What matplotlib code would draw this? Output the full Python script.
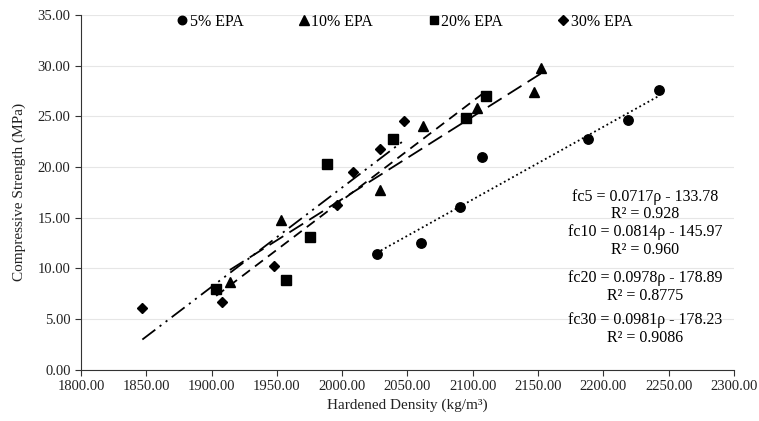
import numpy as np
import matplotlib.pyplot as plt
from matplotlib.lines import Line2D

plt.rcParams['font.family'] = ['Liberation Serif', 'DejaVu Serif']

# hardened density (kg/m3) and compressive strength (MPa) per EPA content
rho_5 = [2026.5, 2060.5, 2090.0, 2107.0, 2188.0, 2219.0, 2242.5]
fc_5 = [11.4, 12.5, 16.0, 21.0, 22.8, 24.6, 27.6]
rho_10 = [1914.0, 1953.0, 2029.0, 2062.0, 2103.0, 2147.0, 2152.0]
fc_10 = [8.6, 14.8, 17.7, 24.0, 25.8, 27.4, 29.8]
rho_20 = [1903.5, 1957.0, 1975.0, 1988.5, 2039.0, 2094.5, 2110.5]
fc_20 = [7.9, 8.8, 13.1, 20.3, 22.8, 24.8, 27.0]
rho_30 = [1847.0, 1908.0, 1948.0, 1996.0, 2008.0, 2029.0, 2047.0]
fc_30 = [6.1, 6.7, 10.2, 16.2, 19.5, 21.8, 24.5]

# linear fits: slope, intercept, R2 label
slopes = [0.0717, 0.0814, 0.0978, 0.0981]
intercepts = [-133.78, -145.97, -178.89, -178.23]
r2_labels = ['0.928', '0.960', '0.8775', '0.9086']
fit_names = ['fc5', 'fc10', 'fc20', 'fc30']

labels = ['5% EPA', '10% EPA', '20% EPA', '30% EPA']
markers = ['o', '^', 's', 'D']
marker_sizes = [6.8, 7.5, 6.8, 5.6]
line_styles = [(0, (1, 1.6)), (0, (9, 4)), (0, (5.5, 3.5)), (0, (9, 3, 1.2, 3, 1.2, 3))]

rho_all = [rho_5, rho_10, rho_20, rho_30]
fc_all = [fc_5, fc_10, fc_20, fc_30]

fig = plt.figure(figsize=(7.59, 4.21), dpi=100)
ax = fig.add_axes([0.1067, 0.1223, 0.8603, 0.8421])

handles = []
for rho, fc, m, ms, ls, a, b, lab in zip(rho_all, fc_all, markers, marker_sizes,
                                          line_styles, slopes, intercepts, labels):
    ax.plot(rho, fc, linestyle='none', marker=m, markersize=ms, color='black', zorder=3)
    xs = np.array([min(rho), max(rho)])
    ax.plot(xs, a * xs + b, linestyle=ls, color='black', linewidth=1.3, zorder=2)
    handles.append(Line2D([], [], linestyle='none', marker=m, markersize=ms * 0.9,
                          color='black', label=lab))

# regression equations
eq_y = [(197, 214), (232, 250), (278, 296), (320, 338)]
for name, a, b, r2, (y1, y2) in zip(fit_names, slopes, intercepts, r2_labels, eq_y):
    ax.text(645 / 759, 1 - y1 / 421, f'{name} = {a:.4f}ρ - {abs(b):.2f}',
            transform=fig.transFigure, ha='center', va='center', fontsize=11.5)
    ax.text(645 / 759, 1 - y2 / 421, f'R² = {r2}',
            transform=fig.transFigure, ha='center', va='center', fontsize=11.5)

ax.set_xlim(1800, 2300)
ax.set_ylim(0, 35)
ax.set_xticks(np.arange(1800, 2301, 50))
ax.set_yticks(np.arange(0, 35.1, 5))
ax.xaxis.set_major_formatter(plt.FormatStrFormatter('%.2f'))
ax.yaxis.set_major_formatter(plt.FormatStrFormatter('%.2f'))
ax.tick_params(labelsize=10.5, length=4, width=0.8, color='#333333', colors='#222222')
ax.grid(axis='y', color='#e6e6e6', linewidth=0.8)
ax.set_axisbelow(True)
for side in ['top', 'right']:
    ax.spines[side].set_visible(False)
for side in ['left', 'bottom']:
    ax.spines[side].set_color('#333333')
    ax.spines[side].set_linewidth(0.8)

ax.set_xlabel('Hardened Density (kg/m³)', fontsize=11, color='#222222', labelpad=4)
ax.set_ylabel('Compressive Strength (MPa)', fontsize=11, color='#222222', labelpad=8)

fig.legend(handles=handles, loc='center', bbox_to_anchor=(0.533, 1 - 22 / 421),
           ncol=4, frameon=False, fontsize=11.5, handlelength=0.7,
           handletextpad=0.1, columnspacing=3.45)

fig.savefig('out.png', dpi=100)
